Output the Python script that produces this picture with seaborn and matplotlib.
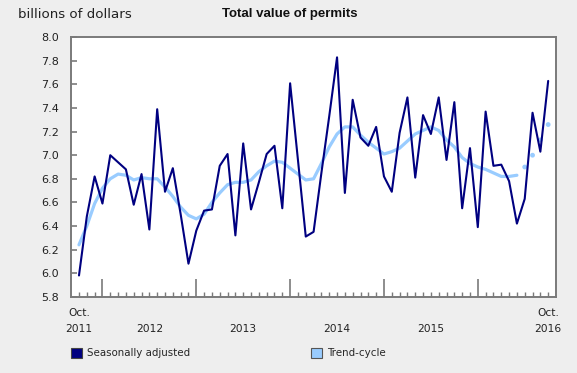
import matplotlib
matplotlib.use("Agg")
import matplotlib.pyplot as plt
from matplotlib.patches import Patch
import seaborn as sns
import pandas as pd
import numpy as np

# ---- data (billions of dollars), Oct 2011 .. Oct 2016 monthly ----
seasonally_adjusted = [5.98, 6.48, 6.82, 6.59, 7.00, 6.94, 6.88, 6.58, 6.84, 6.37,
                       7.39, 6.69, 6.89, 6.50, 6.08, 6.36, 6.53, 6.54, 6.91, 7.01,
                       6.32, 7.10, 6.54, 6.77, 7.01, 7.08, 6.55, 7.61, 6.96, 6.31,
                       6.35, 6.85, 7.33, 7.83, 6.68, 7.47, 7.15, 7.08, 7.24, 6.82,
                       6.69, 7.19, 7.49, 6.81, 7.34, 7.18, 7.49, 6.96, 7.45, 6.55,
                       7.06, 6.39, 7.37, 6.91, 6.92, 6.78, 6.42, 6.63, 7.36, 7.03,
                       7.63]
trend_cycle = [6.24, 6.40, 6.59, 6.72, 6.80, 6.84, 6.83, 6.79, 6.81, 6.80,
               6.80, 6.73, 6.65, 6.56, 6.49, 6.46, 6.50, 6.60, 6.68, 6.75,
               6.77, 6.77, 6.79, 6.86, 6.91, 6.95, 6.94, 6.89, 6.84, 6.79,
               6.80, 6.93, 7.07, 7.18, 7.24, 7.24, 7.17, 7.11, 7.06, 7.01,
               7.03, 7.06, 7.12, 7.18, 7.21, 7.24, 7.21, 7.13, 7.07, 6.98,
               6.93, 6.90, 6.88, 6.85, 6.82, 6.82, 6.83]
trend_cycle_projected = [6.90, 7.00, 7.13, 7.26]

year_labels = ["2012", "2013", "2014", "2015"]
start_label = ["Oct.", "2011"]
end_label = ["Oct.", "2016"]
y_ticks = [5.8, 6.0, 6.2, 6.4, 6.6, 6.8, 7.0, 7.2, 7.4, 7.6, 7.8, 8.0]

months = np.arange(len(seasonally_adjusted))
df_sa = pd.DataFrame({"month": months, "value": seasonally_adjusted})
df_tc = pd.DataFrame({"month": months[:len(trend_cycle)], "value": trend_cycle})
df_tp = pd.DataFrame({"month": months[len(trend_cycle):], "value": trend_cycle_projected})

SA_COLOR = "#000080"
TC_COLOR = "#99ccff"
SPINE = "#7a7a7a"
BG = "#eeeeee"

sns.set_style("white")
plt.rcParams["font.family"] = ["DejaVu Sans"]

fig = plt.figure(figsize=(5.77, 3.73), dpi=100, facecolor=BG)
ax = fig.add_axes([70.7 / 577, 1 - 296.7 / 373, (556 - 70.7) / 577, (296.7 - 37.3) / 373])
ax.set_facecolor("white")

sns.lineplot(data=df_tc, x="month", y="value", ax=ax, color=TC_COLOR, linewidth=2.3)
sns.scatterplot(data=df_tp, x="month", y="value", ax=ax, color=TC_COLOR, s=12,
                edgecolor="none", linewidth=0)
sns.lineplot(data=df_sa, x="month", y="value", ax=ax, color=SA_COLOR, linewidth=1.5)

ax.set_xlim(-1.06, 61.0)
ax.set_ylim(5.8, 8.0)
ax.set_xlabel("")
ax.set_ylabel("")

for s in ax.spines.values():
    s.set_color(SPINE)
    s.set_linewidth(1.4)
    s.set_visible(True)

ax.set_yticks(y_ticks)
ax.set_yticklabels([f"{v:.1f}" for v in y_ticks])
ax.tick_params(axis="y", direction="in", length=4, width=1.2, color=SPINE,
               labelsize=8, labelcolor="#222222", pad=8.5, left=True)

jan_positions = [m for m in months if (m + 9) % 12 == 0]
ax.set_xticks(jan_positions)
ax.set_xticklabels([])
ax.set_xticks(months, minor=True)
ax.tick_params(axis="x", which="major", direction="in", length=13, width=1.2, color=SPINE, bottom=True)
ax.tick_params(axis="x", which="minor", direction="in", length=3.5, width=1.0, color=SPINE, bottom=True)

tr = ax.get_xaxis_transform()
y1 = -(313 - 296.7) / 259.4
y2 = -(328.5 - 296.7) / 259.4
lab_kw = dict(transform=tr, ha="center", va="center", fontsize=7.7, color="#222222")
ax.text(months[0], y1, start_label[0], **lab_kw)
ax.text(months[0], y2, start_label[1], **lab_kw)
ax.text(months[-1], y1, end_label[0], **lab_kw)
ax.text(months[-1], y2, end_label[1], **lab_kw)
for k, lbl in enumerate(year_labels):
    ax.text(jan_positions[k] + 6, y2, lbl, **lab_kw)

fig.text(290 / 577, 1 - 14.5 / 373, "Total value of permits", ha="center", va="center",
         fontsize=9.5, fontweight="bold", family=["Liberation Sans", "DejaVu Sans"], color="#111111")
fig.text(17.5 / 577, 1 - 14.5 / 373, "billions of dollars", ha="left", va="center",
         fontsize=9.6, color="#222222")

leg_kw = dict(loc="center left", frameon=False, borderpad=0, borderaxespad=0,
              handlelength=1.1, handleheight=1.1, handletextpad=0.45, fontsize=7.4)
h1 = [Patch(facecolor=SA_COLOR, edgecolor="#444444", linewidth=0.8)]
h2 = [Patch(facecolor=TC_COLOR, edgecolor="#555555", linewidth=0.8)]
leg1 = fig.legend(h1, ["Seasonally adjusted"], bbox_to_anchor=(70.7 / 577, 1 - 353 / 373), **leg_kw)
leg2 = fig.legend(h2, ["Trend-cycle"], bbox_to_anchor=(311 / 577, 1 - 353 / 373), **leg_kw)

fig.savefig("out.png", dpi=100, facecolor=BG)
